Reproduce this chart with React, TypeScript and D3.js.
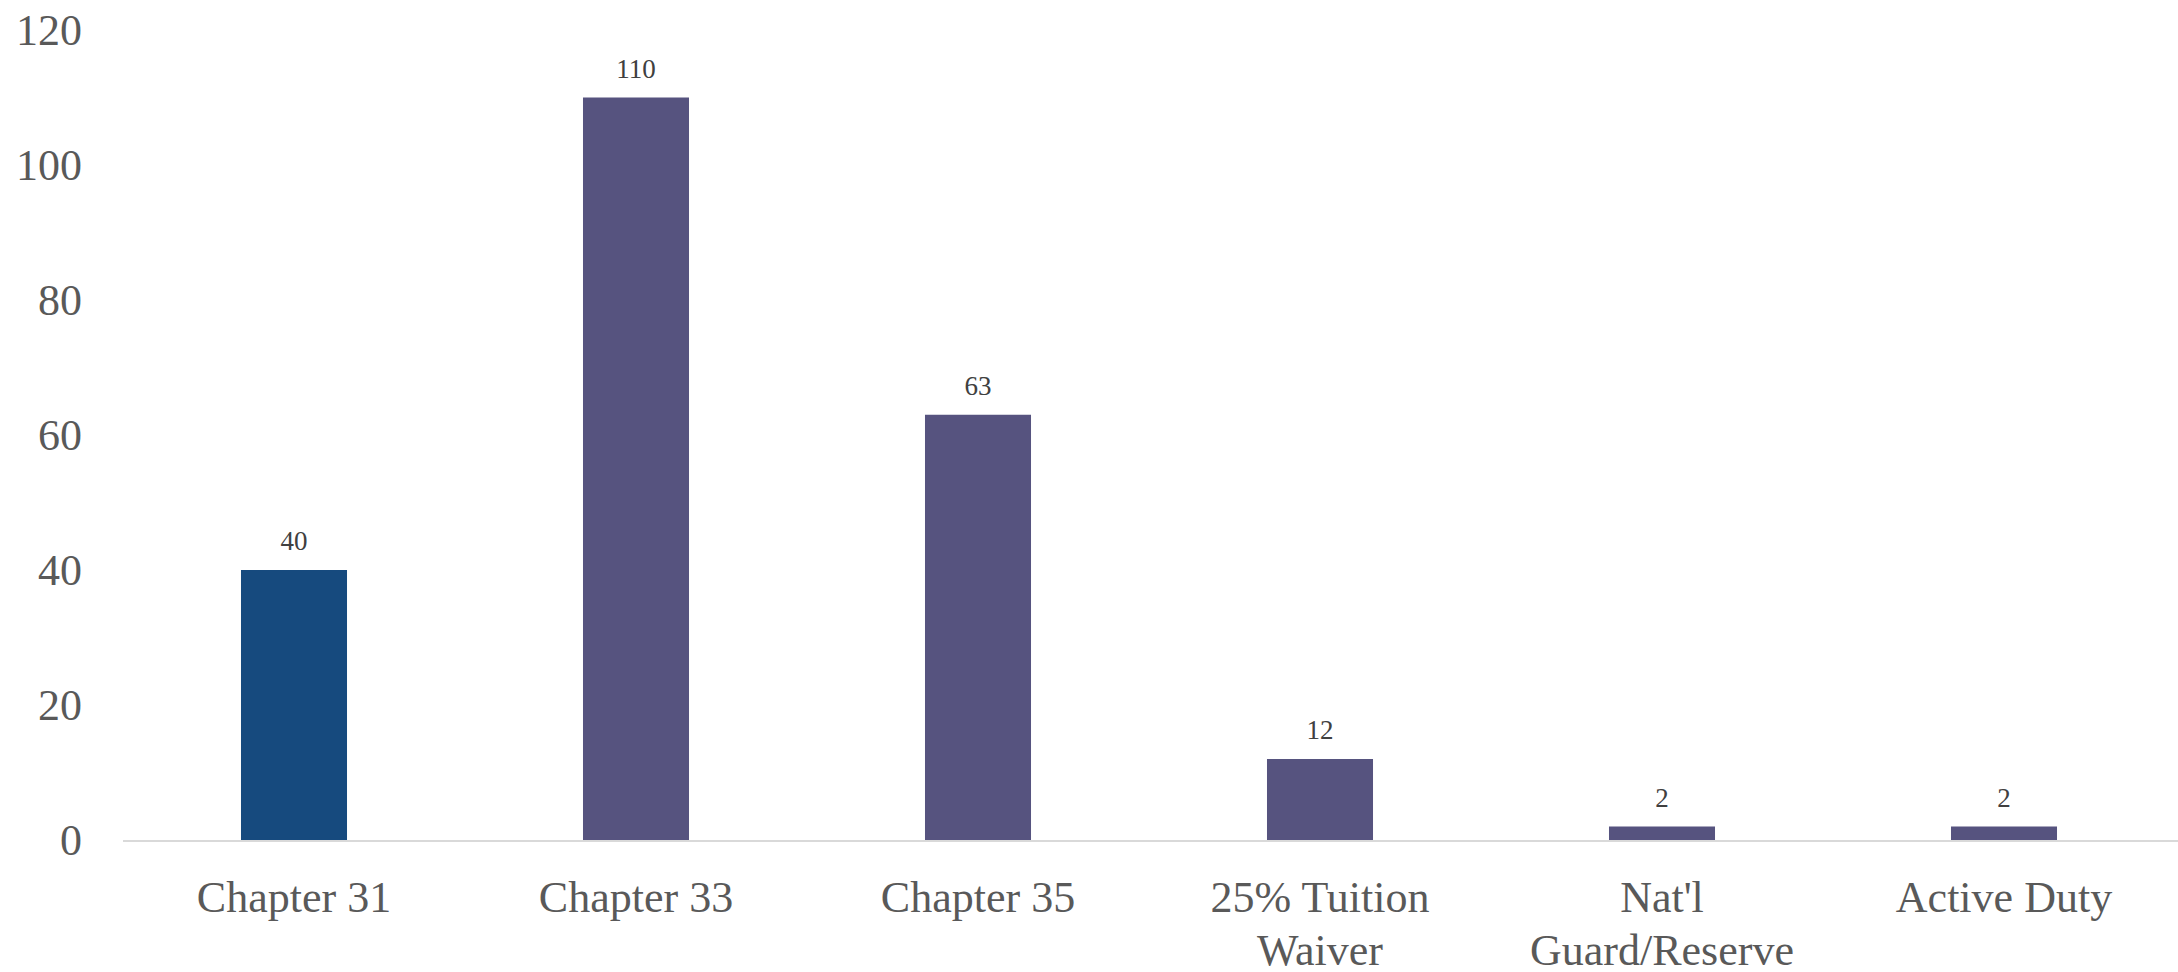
import React from "react";
import * as d3 from "d3";

const categories = ["Chapter 31", "Chapter 33", "Chapter 35", "25% Tuition Waiver", "Nat'l Guard/Reserve", "Active Duty"];
const categoryLines = [["Chapter 31"], ["Chapter 33"], ["Chapter 35"], ["25% Tuition", "Waiver"], ["Nat'l", "Guard/Reserve"], ["Active Duty"]];
const values = [40, 110, 63, 12, 2, 2];
const barColors = ["#164a7e", "#56537f", "#56537f", "#56537f", "#56537f", "#56537f"];
const yTicks = [0, 20, 40, 60, 80, 100, 120];

const W = 2178;
const H = 972;
const FONT = "'Liberation Serif', 'DejaVu Serif', serif";

export default function App() {
  const x = d3.scaleBand<string>().domain(categories).range([123, 2175]).paddingInner(0.69).paddingOuter(0.345);
  const y = d3.scaleLinear().domain([0, 120]).range([840, 30]);

  return (
    <svg width={W} height={H} style={{ position: "absolute", left: 0, top: 0, background: "#fff" }}>
      {yTicks.map((t) => (
        <text key={t} x={82} y={y(t)} dy="0.35em" textAnchor="end" fontFamily={FONT} fontSize={44} fill="#595959">
          {t}
        </text>
      ))}
      {categories.map((c, i) => (
        <rect key={c} x={x(c)} y={y(values[i])} width={x.bandwidth()} height={y(0) - y(values[i])} fill={barColors[i]} />
      ))}
      <line x1={123} x2={2178} y1={y(0) + 1} y2={y(0) + 1} stroke="#d9d9d9" strokeWidth={2} />
      {categories.map((c, i) => (
        <text key={c + "v"} x={(x(c) as number) + x.bandwidth() / 2} y={y(values[i]) - 20} textAnchor="middle" fontFamily={FONT} fontSize={27} fill="#404040">
          {values[i]}
        </text>
      ))}
      {categories.map((c, i) => (
        <text key={c + "l"} textAnchor="middle" fontFamily={FONT} fontSize={44} fill="#595959">
          {categoryLines[i].map((ln, j) => (
            <tspan key={j} x={(x(c) as number) + x.bandwidth() / 2} y={912 + j * 53}>
              {ln}
            </tspan>
          ))}
        </text>
      ))}
    </svg>
  );
}
